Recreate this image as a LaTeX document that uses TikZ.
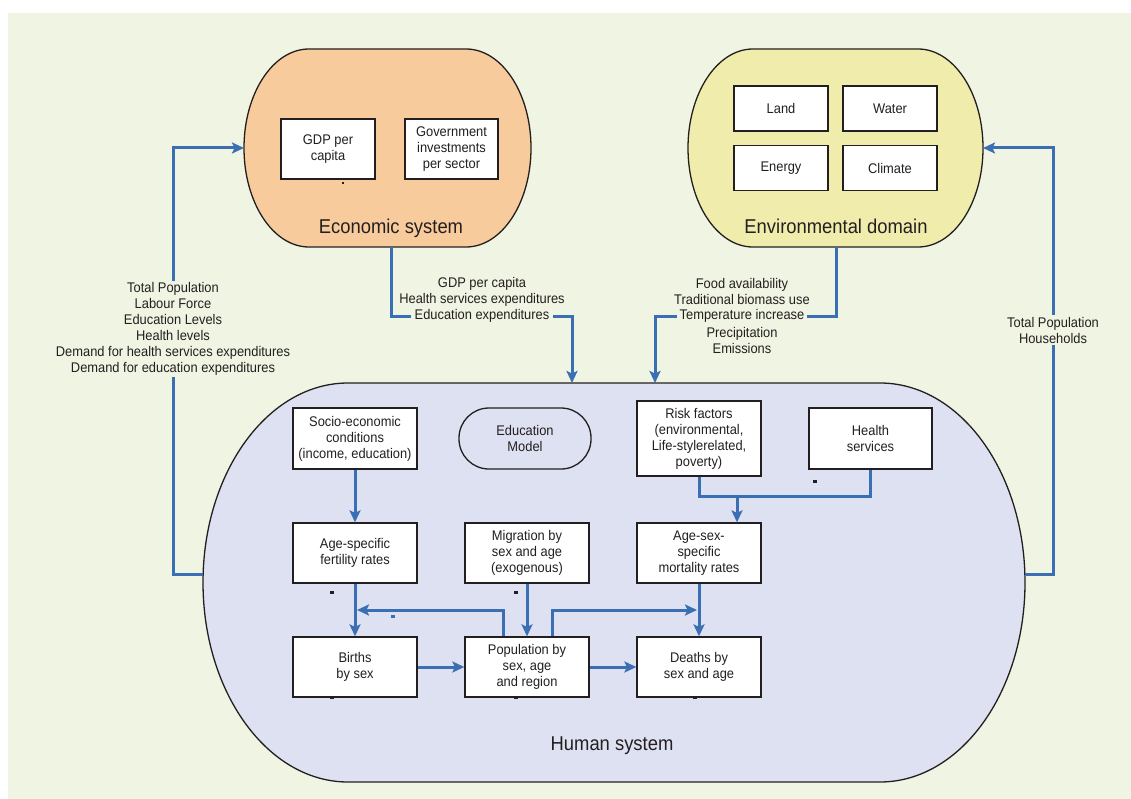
\documentclass[tikz,border=0pt]{standalone}
\usepackage{fontspec}
\setmainfont{Liberation Sans}[FakeStretch=0.92]
\usetikzlibrary{arrows.meta,calc}

\definecolor{bg}{RGB}{240,244,227}
\definecolor{econfill}{RGB}{248,203,156}
\definecolor{envfill}{RGB}{240,237,172}
\definecolor{humfill}{RGB}{222,225,241}
\definecolor{flow}{RGB}{59,111,180}
\definecolor{ink}{RGB}{35,31,32}

\begin{document}
\begin{tikzpicture}[x=1pt,y=-1pt,
  every node/.style={text=ink, font=\fontsize{14}{16}\selectfont},
  box/.style={draw=ink, line width=1.3pt, fill=white, align=center, inner sep=2pt},
  pill/.style={draw=ink, line width=1.3pt, align=center, inner sep=2pt, rounded corners=30pt},
  title/.style={font=\fontsize{20}{24}\selectfont, anchor=base},
  lbl/.style={align=center, inner sep=1.5pt},
  gaplbl/.style={align=center, inner ysep=1.5pt, inner xsep=3pt},
  link/.style={draw=flow, line width=3pt},
  arr/.style={draw=flow, line width=3pt, -{Stealth[length=12pt,width=11pt,inset=2.5pt]}},
  shell/.style={draw=ink, line width=1.3pt},
]
\useasboundingbox (0,0) rectangle (1131,799);
\fill[white] (0,0) rectangle (1131,799);
\fill[bg] (8,13) rectangle (1131,799);

% ---- three system shells ----
\path[shell, fill=econfill] (244,148) .. controls (244,93.3) and (273.1,49) .. (309,49)
  -- (466,49) .. controls (501.9,49) and (531,93.3) .. (531,148)
  .. controls (531,202.7) and (501.9,247) .. (466,247)
  -- (309,247) .. controls (273.1,247) and (244,202.7) .. (244,148) -- cycle;
\path[shell, fill=envfill] (688,148) .. controls (688,93.3) and (717.1,49) .. (753,49)
  -- (918,49) .. controls (953.9,49) and (983,93.3) .. (983,148)
  .. controls (983,202.7) and (953.9,247) .. (918,247)
  -- (753,247) .. controls (717.1,247) and (688,202.7) .. (688,148) -- cycle;
\path[shell, fill=humfill] (203,582.5) .. controls (203,472.3) and (267.9,383) .. (348,383)
  -- (880,383) .. controls (960.1,383) and (1025,472.3) .. (1025,582.5)
  .. controls (1025,692.7) and (960.1,782) .. (880,782)
  -- (348,782) .. controls (267.9,782) and (203,692.7) .. (203,582.5) -- cycle;

% attachment points on the shells
\coordinate (econW) at (244,148);
\coordinate (econS) at (391,247);
\coordinate (envE) at (983,148);
\coordinate (envS) at (836,247);
\coordinate (humW) at (203,574);
\coordinate (humE) at (1025,574);
\coordinate (humN1) at (572,383);
\coordinate (humN2) at (655,383);

% ---- shell titles ----
\node[title] (econT) at (391,234) {Economic system};
\node[title] (envT) at (836,234) {Environmental domain};
\node[title] (humT) at (612,750) {Human system};

% ---- economic system ----
\node[box, minimum width=94pt, minimum height=60pt] (gdp) at (328,149) {GDP per\\capita};
\node[box, minimum width=93pt, minimum height=60pt] (gov) at (451.5,149) {Government\\investments\\per sector};

% ---- environmental domain ----
\node[box, minimum width=94pt, minimum height=45pt] (land) at (781,108.5) {Land};
\node[box, minimum width=94pt, minimum height=45pt] (water) at (890,108.5) {Water};
\node[box, minimum width=94pt, minimum height=45pt] (energy) at (781,168) {Energy};
\node[box, minimum width=94pt, minimum height=45pt] (climate) at (890,168) {Climate};

% ---- human system ----
\node[box, minimum width=124pt, minimum height=61pt] (socio) at (355,438.5) {Socio-economic\\conditions\\(income, education)};
\node[pill, minimum width=132pt, minimum height=61pt] (edu) at (525,438.5) {Education\\Model};
\node[box, minimum width=124pt, minimum height=75pt] (risk) at (699,438.5) {Risk factors\\(environmental,\\Life-stylerelated,\\poverty)};
\node[box, minimum width=123pt, minimum height=61pt] (health) at (870.5,438.5) {Health\\services};
\node[box, minimum width=124pt, minimum height=60pt] (fert) at (355,553) {Age-specific\\fertility rates};
\node[box, minimum width=124pt, minimum height=60pt] (migr) at (527,553) {Migration by\\sex and age\\(exogenous)};
\node[box, minimum width=124pt, minimum height=60pt] (mort) at (699,553) {Age-sex-\\specific\\mortality rates};
\node[box, minimum width=124pt, minimum height=60pt] (births) at (355,667) {Births\\by sex};
\node[box, minimum width=124pt, minimum height=60pt] (pop) at (527,667) {Population by\\sex, age\\and region};
\node[box, minimum width=124pt, minimum height=60pt] (deaths) at (699,667) {Deaths by\\sex and age};

% ---- flow labels ----
\node[lbl, fill=bg] (popL) at (173,329) {Total Population\\Labour Force\\Education Levels\\Health levels\\Demand for health services expenditures\\Demand for education expenditures};
\node[lbl, fill=bg] (hhL) at (1053,330) {Total Population\\Households};
\node[lbl] (ecoL) at (482,291.5) {GDP per capita\\Health services expenditures};
\node[gaplbl] (eduL) at (482,316) {Education expenditures};
\node[lbl] (envL) at (742,291) {Food availability\\Traditional biomass use};
\node[gaplbl] (tempL) at (742,316) {Temperature increase};
\node[lbl] (envL2) at (742,340) {Precipitation\\Emissions};

% ---- connectors between systems ----
\draw[link] (humW) -| (popL.south);
\draw[arr] (popL.north) |- (econW);
\draw[link] (humE) -| (hhL.south);
\draw[arr] (hhL.north) |- (envE);
\draw[link] (econS) |- (eduL.west);
\draw[arr] (eduL.east) -| (humN1);
\draw[link] (envS) |- (tempL.east);
\draw[arr] (tempL.west) -| (humN2);

% ---- connectors inside the human system ----
\coordinate (jn) at (737,496);
\coordinate (fb) at (357,610);
\coordinate (fd) at (697,610);
\draw[arr] (socio) -- (fert);
\draw[link] (risk.south) |- (jn) -| (health.south);
\draw[arr] (jn) -- (jn |- mort.north);
\draw[arr] (fert) -- (births);
\draw[arr] (migr) -- (pop);
\draw[arr] (mort) -- (deaths);
\draw[arr] ([xshift=-24pt]pop.north) |- (fb);
\draw[arr] ([xshift=25pt]pop.north) |- (fd);
\draw[arr] (births) -- (pop);
\draw[arr] (pop) -- (deaths);

% ---- small stray marks ----
\fill[ink] (342,182) rectangle ++(2,2);
\fill[ink] (330,591) rectangle ++(4,3);
\fill[ink] (514,591) rectangle ++(4,3);
\fill[ink] (330,696) rectangle ++(4,3);
\fill[ink] (514,696) rectangle ++(4,3);
\fill[ink] (693,696) rectangle ++(4,3);
\fill[ink] (813,480) rectangle ++(4,3);
\fill[flow] (391,615) rectangle ++(4,3);
\end{tikzpicture}
\end{document}
